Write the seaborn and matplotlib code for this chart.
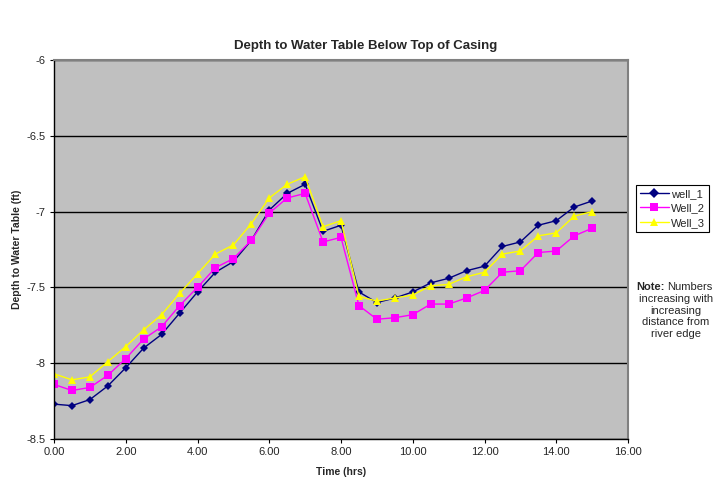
import numpy as np
import pandas as pd
import matplotlib
matplotlib.use('Agg')
import matplotlib.pyplot as plt
import seaborn as sns

# tempo (horas) e profundidade de cada poço
tempo = [0.0, 0.5, 1.0, 1.5, 2.0, 2.5, 3.0, 3.5, 4.0, 4.5, 5.0, 5.5, 6.0, 6.5, 7.0, 7.5,
         8.0, 8.5, 9.0, 9.5, 10.0, 10.5, 11.0, 11.5, 12.0, 12.5, 13.0, 13.5, 14.0, 14.5, 15.0]

well_1 = [-8.27, -8.28, -8.24, -8.15, -8.03, -7.90, -7.81, -7.67, -7.53, -7.40, -7.33, -7.19,
          -6.99, -6.88, -6.82, -7.13, -7.09, -7.53, -7.60, -7.57, -7.53, -7.47, -7.44, -7.39,
          -7.36, -7.23, -7.20, -7.09, -7.06, -6.97, -6.93]
well_2 = [-8.14, -8.18, -8.16, -8.08, -7.97, -7.84, -7.76, -7.62, -7.50, -7.37, -7.31, -7.19,
          -7.01, -6.91, -6.88, -7.20, -7.17, -7.62, -7.71, -7.70, -7.68, -7.61, -7.61, -7.57,
          -7.52, -7.40, -7.39, -7.27, -7.26, -7.16, -7.11]
well_3 = [-8.07, -8.11, -8.09, -7.99, -7.89, -7.78, -7.68, -7.54, -7.41, -7.28, -7.22, -7.08,
          -6.91, -6.82, -6.77, -7.10, -7.06, -7.56, -7.59, -7.57, -7.55, -7.49, -7.48, -7.43,
          -7.40, -7.28, -7.26, -7.16, -7.14, -7.03, -7.00]

nomes = ['well_1', 'Well_2', 'Well_3']
cores = {'well_1': '#000080', 'Well_2': '#FF00FF', 'Well_3': '#FFFF00'}
marcadores = {'well_1': 'D', 'Well_2': 's', 'Well_3': '^'}

# MONTAR O DATAFRAME LONGO
df = pd.concat([
    pd.DataFrame({'tempo': tempo, 'prof': well_1, 'poco': 'well_1'}),
    pd.DataFrame({'tempo': tempo, 'prof': well_2, 'poco': 'Well_2'}),
    pd.DataFrame({'tempo': tempo, 'prof': well_3, 'poco': 'Well_3'}),
])

sns.set_style('white')
plt.rcParams['font.family'] = ['Liberation Sans', 'DejaVu Sans']

fig = plt.figure(figsize=(7.16, 4.79), dpi=100)
ax = fig.add_axes([54 / 716, 1 - 439 / 479, 574 / 716, 379 / 479])
ax.set_facecolor('#C0C0C0')

sns.lineplot(data=df, x='tempo', y='prof', hue='poco', style='poco',
             hue_order=nomes, style_order=nomes, palette=cores, markers=marcadores,
             dashes=False, linewidth=1.0, markersize=5.5, markeredgewidth=0,
             ax=ax, legend=True)

# ajustar tamanho dos marcadores individualmente
for linha, ms in zip(ax.get_lines()[:3], [4.5, 5.5, 6]):
    linha.set_markersize(ms)

ax.set_xlim(0, 16)
ax.set_ylim(-8.5, -6)
ax.set_xticks(np.arange(0, 17, 2))
ax.set_xticklabels(['%.2f' % v for v in np.arange(0, 17, 2)], fontsize=8)
ax.set_yticks(np.arange(-8.5, -5.9, 0.5))
ax.set_yticklabels(['%g' % v for v in np.arange(-8.5, -5.9, 0.5)], fontsize=8)
ax.yaxis.grid(True, color='black', linewidth=1.0)
ax.xaxis.grid(False)
ax.set_axisbelow(True)
ax.tick_params(axis='both', direction='out', length=3, width=0.8, color='black', pad=3)
ax.tick_params(axis='x', bottom=True)
ax.tick_params(axis='y', left=True)

for lado in ['top', 'right']:
    ax.spines[lado].set_color('#808080')
    ax.spines[lado].set_linewidth(1.5)
for lado in ['left', 'bottom']:
    ax.spines[lado].set_color('black')
    ax.spines[lado].set_linewidth(1.0)

ax.set_xlabel('Time (hrs)', fontsize=7.5, fontweight='bold', va='center')
ax.set_ylabel('Depth to Water Table (ft)', fontsize=7.5, fontweight='bold', va='center')
ax.xaxis.set_label_coords(0.5, (439 - 472) / 379)
ax.yaxis.set_label_coords((17 - 54) / 574, 0.5)

fig.text(366 / 716, 1 - 46 / 479, 'Depth to Water Table Below Top of Casing',
         ha='center', va='center', fontsize=9.5, fontweight='bold')

# LEGENDA FORA DO GRÁFICO
handles, labels = ax.get_legend_handles_labels()
ax.legend(handles, labels, loc='upper left', bbox_to_anchor=(636 / 716, 1 - 185 / 479),
          bbox_transform=fig.transFigure, fontsize=8, frameon=True, fancybox=False,
          edgecolor='black', facecolor='white', framealpha=1, borderpad=0.35,
          labelspacing=0.4, handlelength=2.6, handletextpad=0.2, borderaxespad=0)
ax.get_legend().get_frame().set_linewidth(0.8)

# NOTA AO LADO DA LEGENDA
fig.text(665 / 716, 1 - 287 / 479, 'Note:', ha='right', va='center',
         fontsize=8, fontweight='bold')
fig.text(667 / 716, 1 - 287 / 479, 'Numbers', ha='left', va='center', fontsize=8)
fig.text(676 / 716, 1 - 294 / 479, 'increasing with\nincreasing\ndistance from\nriver edge',
         ha='center', va='top', fontsize=8, linespacing=1.2)

plt.savefig('out.png', dpi=100)
